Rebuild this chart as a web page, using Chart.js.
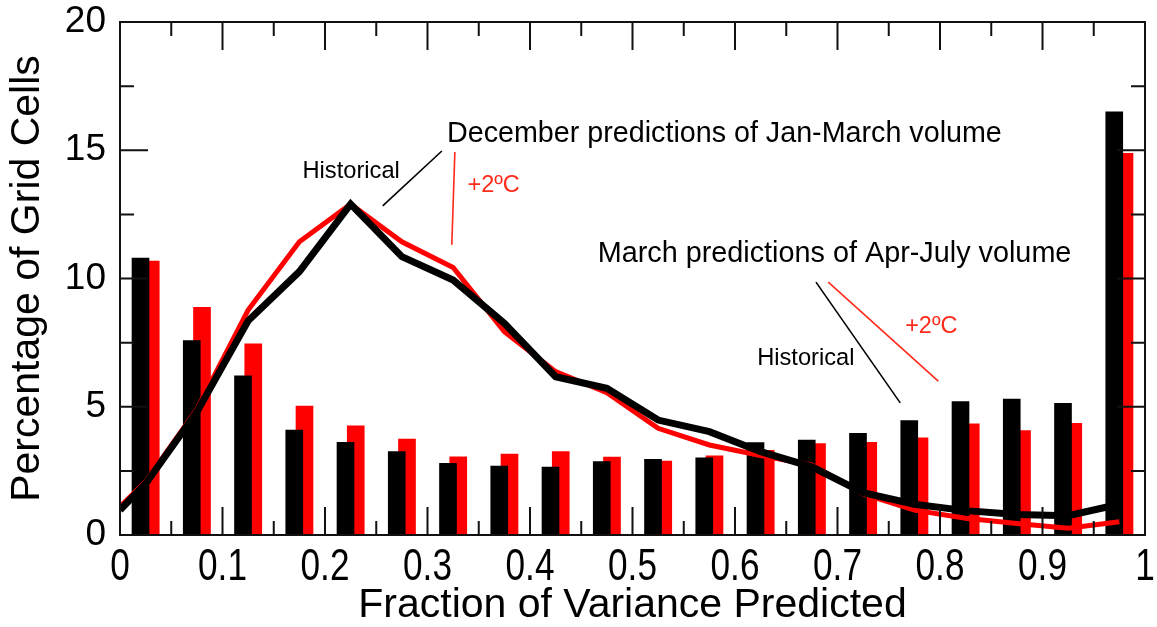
<!DOCTYPE html>
<html>
<head>
<meta charset="utf-8">
<script src="https://cdn.jsdelivr.net/npm/chart.js@4.4.1/dist/chart.umd.min.js"></script>
<style>
  html, body { margin: 0; padding: 0; background: #fff; }
  canvas { display: block; }
</style>
</head>
<body>
<canvas id="chart" width="1157" height="627"></canvas>
<script>
// bin centres of the histogram (fraction of variance predicted)
const binCenters = [0.025,0.075,0.125,0.175,0.225,0.275,0.325,0.375,0.425,0.475,
                    0.525,0.575,0.625,0.675,0.725,0.775,0.825,0.875,0.925,0.975];

// bars: March predictions of Apr-July volume
const barsHistorical = [10.8,7.58,6.21,4.09,3.61,3.25,2.79,2.69,2.65,2.86,
                        2.95,3.01,3.6,3.7,3.96,4.46,5.2,5.3,5.13,16.5];
const barsWarm = [10.68,8.88,7.45,5.03,4.26,3.74,3.05,3.15,3.25,3.04,
                  2.88,3.09,3.3,3.56,3.61,3.79,4.33,4.07,4.35,14.88];

// lines: December predictions of Jan-March volume
const lineX = [0,0.025,0.075,0.125,0.175,0.225,0.275,0.325,0.375,0.425,0.475,
               0.525,0.575,0.625,0.675,0.725,0.775,0.825,0.875,0.925,0.975];
const lineHistorical = [0.97,2.0,4.8,8.35,10.27,12.9,10.85,9.94,8.25,6.17,5.72,
                        4.48,4.03,3.25,2.66,1.65,1.2,0.95,0.8,0.75,1.2];
const lineWarm = [1.1,2.08,4.9,8.77,11.43,12.9,11.43,10.43,7.93,6.37,5.55,
                  4.16,3.51,3.1,2.73,1.6,0.97,0.65,0.45,0.26,0.52];

const xTicks = [0,0.1,0.2,0.3,0.4,0.5,0.6,0.7,0.8,0.9,1];
const xTickLabels = ["0","0.1","0.2","0.3","0.4","0.5","0.6","0.7","0.8","0.9","1"];
const yTicks = [0,5,10,15,20];
const yTickLabels = ["0","5","10","15","20"];

// annotations, in data units
const notes = [
  { text: "December predictions of Jan-March volume", x: 0.319, y: 15.63, size: 28.7, color: "#000" },
  { text: "Historical", x: 0.178, y: 14.19, size: 23.7, color: "#000" },
  { text: "+2\u00baC", x: 0.339, y: 13.61, size: 23.5, color: "#ff2a1a" },
  { text: "March predictions of Apr-July volume", x: 0.466, y: 10.96, size: 28.8, color: "#000" },
  { text: "Historical", x: 0.6216, y: 6.9, size: 23.7, color: "#000" },
  { text: "+2\u00baC", x: 0.766, y: 8.11, size: 23.5, color: "#ff2a1a" }
];
const pointers = [
  { from: [0.2563, 12.83], to: [0.314, 14.97], color: "#000" },
  { from: [0.3267, 14.93], to: [0.3237, 11.31], color: "#ff2a1a" },
  { from: [0.679, 9.86], to: [0.7612, 5.15], color: "#000" },
  { from: [0.691, 9.86], to: [0.7983, 6.0], color: "#ff2a1a" }
];

const barShift = 0.005;
const FONT = '"Liberation Sans", Arial, sans-serif';

const midpoints = a => a.slice(1).map((v,i)=>(v+a[i])/2);

const frameAndNotes = {
  id: "frameAndNotes",
  afterDatasetsDraw(chart){
    const {ctx, chartArea:a, scales:{x,y}} = chart;
    ctx.save();
    ctx.strokeStyle = "#111";
    ctx.lineWidth = 2;
    ctx.beginPath();
    const tick = (px, len, vertical) => {
      if(vertical){
        ctx.moveTo(px, a.bottom); ctx.lineTo(px, a.bottom-len);
        ctx.moveTo(px, a.top); ctx.lineTo(px, a.top+len);
      } else {
        ctx.moveTo(a.left, px); ctx.lineTo(a.left+len, px);
        ctx.moveTo(a.right, px); ctx.lineTo(a.right-len, px);
      }
    };
    xTicks.forEach(v=>tick(x.getPixelForValue(v), 28, true));
    midpoints(xTicks).forEach(v=>tick(x.getPixelForValue(v), 14, true));
    yTicks.forEach(v=>tick(y.getPixelForValue(v), 28, false));
    midpoints(yTicks).forEach(v=>tick(y.getPixelForValue(v), 14, false));
    ctx.stroke();
    ctx.strokeRect(a.left, a.top, a.right-a.left, a.bottom-a.top);

    // x tick labels, narrow face
    ctx.fillStyle = "#000";
    ctx.font = "44px " + FONT;
    ctx.textAlign = "center";
    ctx.textBaseline = "middle";
    xTicks.forEach((v,i)=>{
      ctx.save();
      ctx.translate(x.getPixelForValue(v), a.bottom + 33);
      ctx.scale(0.8, 1);
      ctx.fillText(xTickLabels[i], 0, 0);
      ctx.restore();
    });

    ctx.lineWidth = 1.6;
    pointers.forEach(p=>{
      ctx.strokeStyle = p.color;
      ctx.beginPath();
      ctx.moveTo(x.getPixelForValue(p.from[0]), y.getPixelForValue(p.from[1]));
      ctx.lineTo(x.getPixelForValue(p.to[0]), y.getPixelForValue(p.to[1]));
      ctx.stroke();
    });

    ctx.textAlign = "left";
    notes.forEach(n=>{
      ctx.fillStyle = n.color;
      ctx.font = n.size + "px " + FONT;
      ctx.fillText(n.text, x.getPixelForValue(n.x), y.getPixelForValue(n.y));
    });
    ctx.restore();
  }
};

const ctx = document.getElementById("chart").getContext("2d");
new Chart(ctx, {
  type: "bar",
  data: {
    datasets: [
      { type: "line", label: "Historical (Dec)", data: lineX.map((v,i)=>({x:v,y:lineHistorical[i]})),
        borderColor: "#000", borderWidth: 7, pointRadius: 0, tension: 0, order: 0 },
      { type: "line", label: "+2ºC (Dec)", data: lineX.map((v,i)=>({x:v,y:lineWarm[i]})),
        borderColor: "#ff0000", borderWidth: 5, pointRadius: 0, tension: 0, order: 1 },
      { label: "Historical (Mar)", data: binCenters.map((v,i)=>({x:v-barShift,y:barsHistorical[i]})),
        backgroundColor: "#000", barThickness: 17, grouped: false, order: 2 },
      { label: "+2ºC (Mar)", data: binCenters.map((v,i)=>({x:v+barShift,y:barsWarm[i]})),
        backgroundColor: "#ff0000", barThickness: 17, grouped: false, order: 3 }
    ]
  },
  options: {
    responsive: false,
    animation: false,
    devicePixelRatio: 1,
    layout: { padding: { top: 22, right: 12, left: 0, bottom: 0 } },
    plugins: { legend: { display: false }, tooltip: { enabled: false } },
    scales: {
      x: {
        type: "linear", min: 0, max: 1, offset: false,
        grid: { display: false, drawTicks: false },
        border: { display: false },
        afterBuildTicks: s => { s.ticks = xTicks.map(v=>({value:v})); },
        afterFit: s => { s.height = 92; s.paddingLeft = 0; s.paddingRight = 0; },
        ticks: { display: false },
        title: {
          display: true, text: "Fraction of Variance Predicted", color: "#000",
          font: { family: FONT, size: 41, lineHeight: 1 },
          padding: { top: 0, bottom: 1 }
        }
      },
      y: {
        min: 0, max: 20,
        grid: { display: false, drawTicks: false },
        border: { display: false },
        afterBuildTicks: s => { s.ticks = yTicks.map(v=>({value:v})); },
        afterFit: s => { s.width = 120; s.paddingTop = 0; s.paddingBottom = 0; },
        ticks: {
          color: "#000", padding: 14,
          font: { family: FONT, size: 37, lineHeight: 1 },
          callback: (v,i) => yTickLabels[i]
        },
        title: {
          display: true, text: "Percentage of Grid Cells", color: "#000",
          font: { family: FONT, size: 41, lineHeight: 1.2 },
          padding: { top: 3, bottom: 0 }
        }
      }
    }
  },
  plugins: [frameAndNotes]
});
</script>
</body>
</html>
